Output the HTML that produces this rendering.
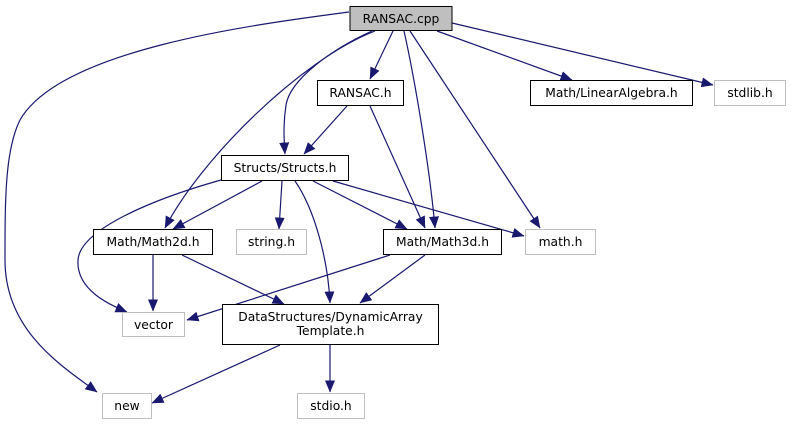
<!DOCTYPE html>
<html><head><meta charset="utf-8"><style>
html,body{margin:0;padding:0;background:#fff;width:791px;height:425px;overflow:hidden}
text{font-family:"DejaVu Sans","Liberation Sans",sans-serif;font-size:12.3px;fill:#000}
</style></head><body>
<svg width="791" height="425" viewBox="0 0 791 425" xmlns="http://www.w3.org/2000/svg">
<defs><marker id="a" markerWidth="12" markerHeight="10" refX="11.5" refY="5" orient="auto" markerUnits="userSpaceOnUse"><path d="M0,0 L12,5 L0,10 z" fill="#191970"/></marker></defs>
<g fill="none" stroke="#191970" stroke-width="1.2" marker-end="url(#a)">
<path d="M349,12 C250,25 60,50 20,120 C5,150 5,200 5,260 C5,330 60,365 97,392"/>
<path d="M375,31 C300,60 200,160 165,228"/>
<path d="M372,31 C330,50 290,80 286,105 C283,125 284,140 285,154"/>
<path d="M393,31 L370,79"/>
<path d="M404,31 C415,80 430,170 435,228"/>
<path d="M410,31 L540,228"/>
<path d="M437,31 L572,80"/>
<path d="M452,23 L713,85"/>
<path d="M347,106 L304,154"/>
<path d="M370,106 L425,228"/>
<path d="M221,180 C150,200 80,230 78,260 C76,290 110,305 127,312"/>
<path d="M262,181 L173,229"/>
<path d="M282,181 L279,229"/>
<path d="M295,181 C315,210 328,260 330,303"/>
<path d="M313,181 L407,229"/>
<path d="M333,181 L524,236"/>
<path d="M153,255 L153,311"/>
<path d="M182,255 L284,304"/>
<path d="M390,255 L187,320"/>
<path d="M425,255 L360,303"/>
<path d="M280,345 L152,403"/>
<path d="M330,345 L330,392"/>
</g>
<g stroke-width="1">
<rect x="350" y="6.5" width="102" height="24" fill="#bfbfbf" stroke="#000"/>
<rect x="317.5" y="80.5" width="86" height="25" fill="#fff" stroke="#000"/>
<rect x="530.5" y="80.5" width="162" height="25" fill="#fff" stroke="#000"/>
<rect x="714.5" y="80.5" width="71" height="25" fill="#fff" stroke="#bfbfbf"/>
<rect x="221.5" y="155.5" width="127" height="25" fill="#fff" stroke="#000"/>
<rect x="93.5" y="229.5" width="119" height="25" fill="#fff" stroke="#000"/>
<rect x="236.5" y="229.5" width="70" height="25" fill="#fff" stroke="#bfbfbf"/>
<rect x="383.5" y="229.5" width="118" height="25" fill="#fff" stroke="#000"/>
<rect x="525.5" y="229.5" width="70" height="25" fill="#fff" stroke="#bfbfbf"/>
<rect x="122.5" y="312.5" width="62" height="24" fill="#fff" stroke="#bfbfbf"/>
<rect x="222.5" y="304.5" width="216" height="40" fill="#fff" stroke="#000"/>
<rect x="102.5" y="393.5" width="49" height="25" fill="#fff" stroke="#bfbfbf"/>
<rect x="297.5" y="393.5" width="67" height="25" fill="#fff" stroke="#bfbfbf"/>
</g>
<g text-anchor="middle">
<text x="401" y="23">RANSAC.cpp</text>
<text x="360.5" y="97">RANSAC.h</text>
<text x="611.5" y="97">Math/LinearAlgebra.h</text>
<text x="750" y="97">stdlib.h</text>
<text x="285" y="172">Structs/Structs.h</text>
<text x="153" y="246">Math/Math2d.h</text>
<text x="271.5" y="246">string.h</text>
<text x="442.5" y="246">Math/Math3d.h</text>
<text x="560.5" y="246">math.h</text>
<text x="153.5" y="329">vector</text>
<text x="330.5" y="321">DataStructures/DynamicArray</text>
<text x="330.5" y="335">Template.h</text>
<text x="127" y="410">new</text>
<text x="331" y="410">stdio.h</text>
</g>
</svg>
</body></html>
